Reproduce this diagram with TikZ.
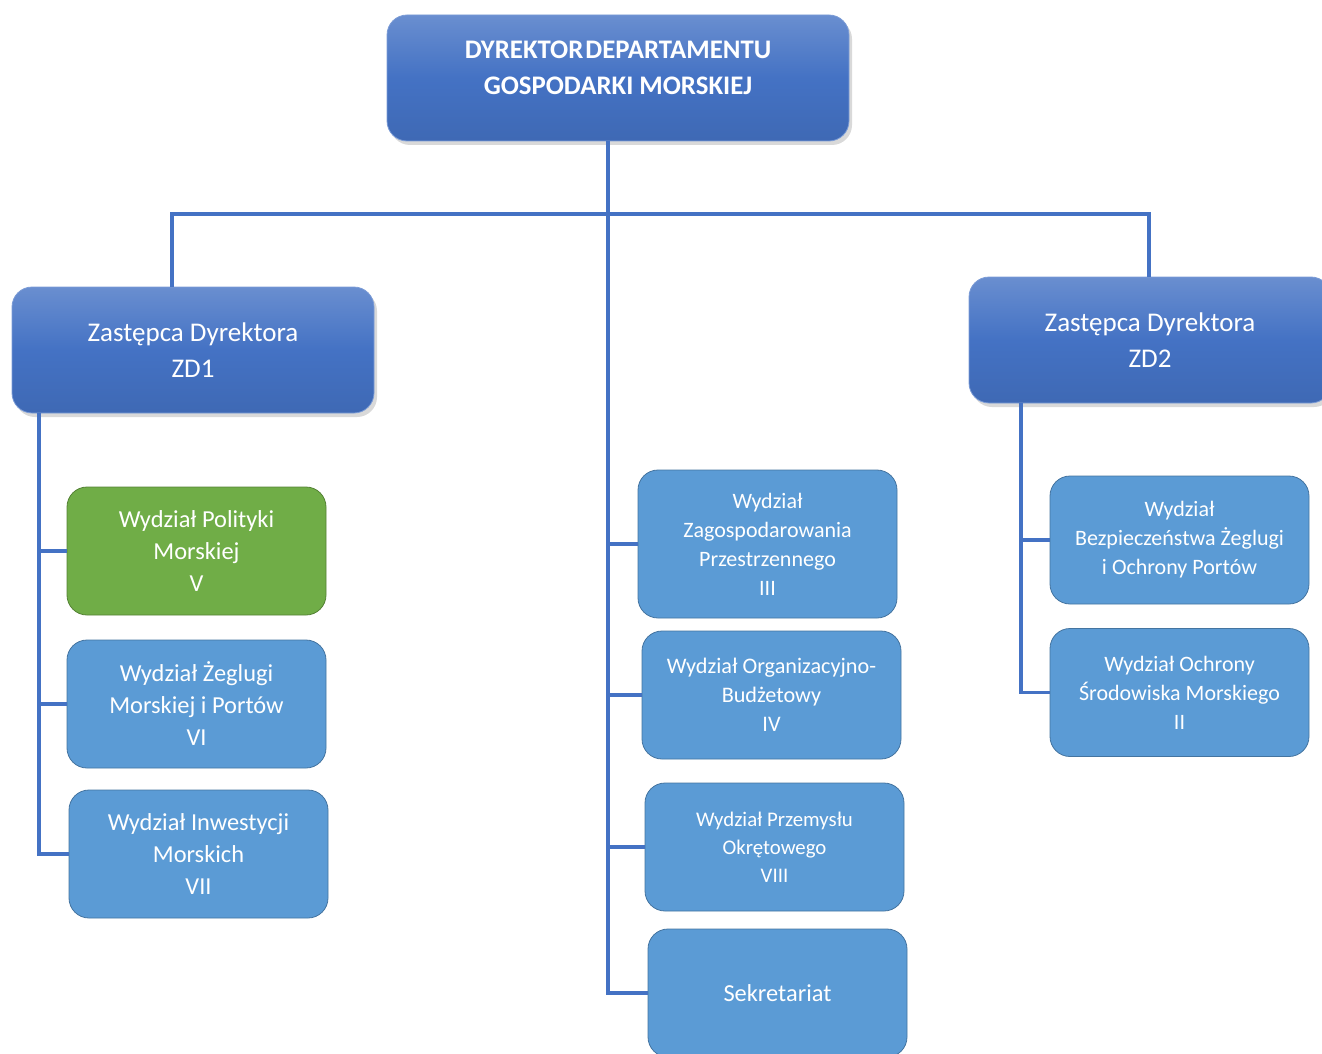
\documentclass[tikz,border=0pt]{standalone}
\usepackage{fontspec}
\setmainfont{Carlito}
\usetikzlibrary{positioning,shadows}
\definecolor{ciemny}{HTML}{4472C4}
\definecolor{jasny}{HTML}{5B9BD5}
\definecolor{zielony}{HTML}{70AD47}

\begin{document}
\begin{tikzpicture}[x=0.5pt,y=-0.5pt,
  szef/.style={rounded corners=10pt, draw=ciemny!70!white, top color=ciemny!80!white,
    bottom color=ciemny!92!black, middle color=ciemny,
    drop shadow={opacity=0.3,shadow xshift=1.5pt,shadow yshift=-2pt},
    text=white, align=center, inner sep=2pt},
  wydzial/.style={rounded corners=10pt, fill=jasny, draw=jasny!75!black, thin,
    text=white, align=center, inner sep=2pt,
    minimum width=129.5pt, minimum height=64pt},
  linia/.style={draw=ciemny, line width=1.8pt}]
\clip (0,0) rectangle (1322,1054);
\node (dyr) [szef, minimum width=231pt, minimum height=63pt,
  label={[text=white, align=center, font=\fontsize{13.4}{18}\selectfont\bfseries, yshift=5pt]center:{DYREKTOR\hspace{-0.15em} DEPARTAMENTU\\GOSPODARKI MORSKIEJ}}] at (618,78) {};
\node (zd1) [szef, minimum width=181pt, minimum height=63pt, font=\fontsize{13.5}{18}\selectfont] at (193,350) {Zastępca Dyrektora\\ZD1};
\node (zd2) [szef, minimum width=181pt, minimum height=63pt, font=\fontsize{13.5}{18}\selectfont] at (1150,340) {Zastępca Dyrektora\\ZD2};
% lewa kolumna
\node (wV) [wydzial, fill=zielony, draw=zielony!75!black, font=\fontsize{12.2}{16}\selectfont] at (196.5,551) {Wydział Polityki\\Morskiej\\V};
\node (wVI) [wydzial, font=\fontsize{12.2}{16}\selectfont] at (196.5,704) {Wydział Żeglugi\\Morskiej i Portów\\VI};
\node (wVII) [wydzial, font=\fontsize{12.2}{16}\selectfont] at (198.5,854) {Wydział Inwestycji\\Morskich\\VII};
% srodkowa kolumna
\node (wIII) [wydzial, minimum height=74pt, font=\fontsize{11}{14.5}\selectfont] at (767.5,544) {Wydział\\Zagospodarowania\\Przestrzennego\\III};
\node (wIV) [wydzial, font=\fontsize{11.1}{14.5}\selectfont] at (771.5,695) {Wydział Organizacyjno-\\Budżetowy\\IV};
\node (wVIII) [wydzial, font=\fontsize{10.4}{14}\selectfont] at (774.5,847) {Wydział Przemysłu\\Okrętowego\\VIII};
\node (sekr) [wydzial, font=\fontsize{12.2}{14}\selectfont] at (777.5,993) {Sekretariat};
% prawa kolumna
\node (wBez) [wydzial, font=\fontsize{11}{14.5}\selectfont] at (1179.5,540) {Wydział\\Bezpieczeństwa Żeglugi\\i Ochrony Portów};
\node (wOch) [wydzial, font=\fontsize{11}{14.5}\selectfont] at (1179.5,692.5) {Wydział Ochrony\\Środowiska Morskiego\\II};
% polaczenia
\coordinate (pien) at (608,141);
\coordinate (belka) at (608,214);
\coordinate (os1) at (172,0);
\coordinate (os2) at (1149,0);
\coordinate (lp) at (39,0);
\coordinate (pp) at (1021,0);
\draw[linia] (pien) |- (sekr.west);
\foreach \w in {wIII,wIV,wVIII}
  \draw[linia] (pien |- \w.west) -- (\w.west);
\draw[linia] (zd1.north -| os1) |- (belka) -| (zd2.north -| os2);
\draw[linia] (zd1.south -| lp) |- (wVII.west);
\foreach \w in {wV,wVI}
  \draw[linia] (lp |- \w.west) -- (\w.west);
\draw[linia] (zd2.south -| pp) |- (wOch.west);
\draw[linia] (pp |- wBez.west) -- (wBez.west);
\end{tikzpicture}
\end{document}
